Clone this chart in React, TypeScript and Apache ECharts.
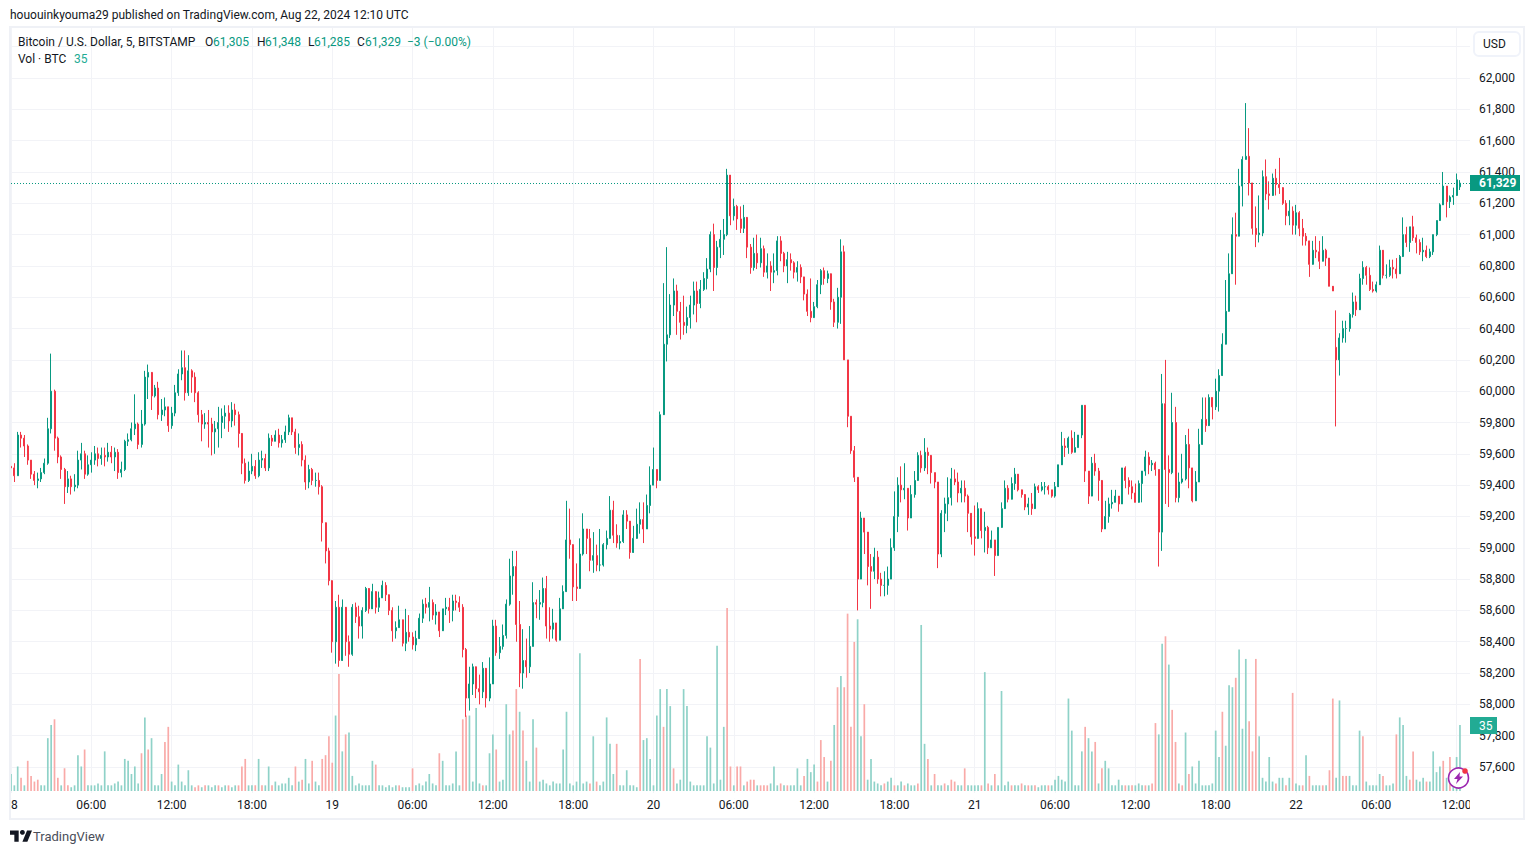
import React, { useEffect, useRef } from "react";
import * as echarts from "echarts";

// Candles are 15-minute slots: [close, low, high, open?]. Open defaults to the previous close.
const day18Candles: number[][] = [
[59510,59450,59570],[59460,59420,59540],[59720,59460,59740],[59700,59640,59740],[59650,59580,59720],[59560,59530,59660],[59470,59440,59560],[59430,59400,59490],
[59440,59380,59480],[59480,59420,59510],[59540,59470,59570],[59760,59530,59830],[60000,59730,60240],[59700,59620,60010],[59580,59540,59710],[59500,59440,59590],
[59390,59280,59510],[59440,59350,59490],[59390,59340,59460],[59400,59360,59470],[59560,59380,59620],[59600,59500,59670],[59470,59440,59620],[59530,59460,59590],
[59560,59480,59610],[59600,59530,59650],[59570,59520,59640],[59590,59530,59640],[59580,59520,59640],[59610,59550,59670],[59580,59540,59650],[59610,59490,59640],
[59480,59440,59630],[59500,59450,59550],[59680,59490,59690],[59690,59650,59730],[59760,59680,59800],[59790,59720,59980],[59660,59630,59800],[59790,59640,59880],
[60090,59780,60130],[60120,59950,60170],[59970,59880,60110],[60020,59960,60040],[59850,59820,60060],[59880,59810,59950],[59900,59840,59960],[59780,59740,59890],
[59860,59760,59900],[59990,59840,60040],[60110,59970,60140],[60150,60070,60260],[59990,59940,60260],[60130,59970,60230],[60090,59990,60140],[59990,59930,60120],
[59850,59800,60000],[59790,59680,59880],[59800,59760,59860],[59790,59640,59880],[59740,59590,59830],[59760,59600,59810],[59800,59640,59900],[59840,59700,59890],
[59860,59760,59910],[59810,59740,59910],[59880,59770,59930],[59850,59780,59920],[59730,59640,59870],[59540,59470,59720],[59430,59410,59570],[59490,59420,59550],
[59520,59470,59600],[59460,59440,59560],[59560,59450,59610],[59570,59510,59620],[59510,59490,59600],[59700,59490,59730],[59680,59650,59720],[59720,59680,59750],
[59670,59640,59760],[59690,59640,59720],[59740,59670,59780],[59830,59720,59850],[59740,59720,59830],[59640,59600,59760],[59660,59590,59730],[59560,59520,59680],
[59420,59370,59590],[59500,59380,59530],[59430,59400,59510],[59430,59390,59480],[59390,59340,59480],[59160,59040,59400],[58980,58900,59090],[58790,58760,59000],
];
const day19Candles: number[][] = [
[58400,58330,58700],[58620,58260,58660],[58280,58240,58700],[58620,58360,58670],[58400,58310,58600],[58320,58240,58440],[58620,58310,58640],[58560,58520,58650],
[58500,58420,58630],[58600,58420,58620],[58740,58590,58750],[58610,58580,58720],[58720,58630,58770],[58620,58580,58700],[58680,58590,58720],[58760,58680,58790],
[58700,58660,58780],[58600,58570,58670],[58470,58400,58620],[58490,58420,58530],[58540,58490,58630],[58390,58370,58530],[58460,58340,58610],[58430,58400,58570],
[58380,58350,58460],[58420,58340,58470],[58550,58440,58580],[58640,58520,58670],[58620,58580,58680],[58650,58530,58750],[58570,58540,58670],[58590,58510,58640],
[58470,58430,58540],[58610,58490,58610],[58620,58570,58680],[58600,58520,58680],[58660,58530,58700],[58650,58600,58700],[58620,58590,58690],[58350,58300,58640],
[58040,57920,58360],[58130,57960,58240],[58240,58060,58260],[58100,58040,58230],[58080,58000,58190],[58230,58040,58270],[58040,57980,58200],[58130,58020,58300],
[58500,58290,58540],[58330,58310,58540],[58370,58290,58430],[58440,58350,58510],[58640,58420,58670],[58820,58630,58930],[58880,58700,58980],[58510,58400,58980],
[58200,58110,58660],[58280,58100,58480],[58240,58170,58420],[58370,58200,58500],[58650,58370,58780],[58640,58550,58670],[58650,58540,58730],[58740,58620,58810],
[58500,58420,58820],[58480,58400,58620],[58520,58420,58610],[58410,58400,58520],[58610,58560,58680],[58720,58620,58760],[59050,58870,59300],[59020,58930,59250],
[58750,58660,58980],[58740,58660,58900],[58960,58770,59060],[59120,58950,59220],[59060,58960,59120],[58920,58850,59120],[58950,58840,59100],[58890,58850,59020],
[58890,58850,59120],[59020,58880,59030],[59060,58990,59110],[59240,59100,59330],[59080,59030,59300],[59030,59000,59150],[59040,58990,59080],[59210,59030,59240],
[59170,59120,59240],[58970,58930,59100],[59060,59010,59140],[59150,59130,59250],[59180,59090,59290],[59120,59030,59290],[59270,59170,59340],[59400,59220,59520],
];
const day20Candles: number[][] = [
[59500,59420,59640],[59430,59380,59500],[59850,59430,59870],[60300,59860,60690],[60360,60190,60920],[60550,60340,60620],[60640,60480,60720],[60510,60360,60680],
[60440,60330,60570],[60420,60360,60610],[60470,60370,60540],[60550,60400,60610],[60640,60490,60700],[60560,60440,60700],[60650,60530,60710],[60720,60640,60760],
[60780,60650,60850],[61000,60760,61020],[60790,60640,61070],[60920,60740,60960],[60970,60850,61030],[61000,60870,61100],[61380,60990,61420],[61120,61060,61300],
[61180,61090,61230],[61100,61030,61190],[61040,61010,61180],[61110,61010,61190],[60920,60850,61080],[60790,60750,60940],[60880,60770,60980],[60820,60780,61000],
[60910,60790,60980],[60760,60730,60930],[60800,60720,60880],[60760,60640,60830],[60770,60690,60880],[60960,60740,60990],[60880,60830,60990],[60800,60760,60890],
[60840,60690,60890],[60820,60770,60880],[60760,60720,60830],[60790,60700,60830],[60730,60690,60810],[60620,60580,60720],[60510,60480,60650],[60470,60440,60720],
[60540,60480,60570],[60680,60530,60710],[60770,60620,60780],[60720,60680,60790],[60750,60690,60770],[60570,60520,60680],[60440,60410,60590],[60600,60400,60660],
[60890,60430,60970],[60200,60200,60930],[59840,59770,60200],[59620,59600,59840],[59450,59420,59650],[58800,58600,59450],[59190,58860,59230],[59100,58960,59170],
[58880,58760,59000],[58850,58610,58960],[58940,58800,59000],[58800,58770,58980],[58760,58690,58840],[58760,58690,58850],[58800,58700,58880],[59000,58810,59060],
[59200,58980,59360],[59400,59100,59450],[59370,59290,59520],[59380,59310,59540],[59190,59110,59380],[59340,59220,59400],[59430,59320,59490],[59590,59480,59610],
[59510,59480,59620],[59610,59490,59700],[59590,59470,59640],[59480,59410,59580],[59420,59380,59480],[58960,58870,59420],[59220,58940,59240],[59280,59100,59320],
[59320,59170,59450],[59440,59270,59510],[59420,59400,59500],[59350,59290,59480],[59380,59290,59430],[59330,59290,59430],[59220,59100,59340],[59070,59020,59190],
];
const day21Candles: number[][] = [
[59060,58950,59270],[59250,59100,59290],[59110,59060,59250],[59130,58970,59230],[59000,58960,59140],[59050,59000,59110],[58950,58820,59040],[59130,58950,59130],
[59250,59180,59290],[59380,59280,59430],[59310,59290,59400],[59410,59330,59450],[59470,59370,59510],[59370,59360,59430],[59340,59320,59360],[59260,59240,59320],
[59280,59210,59320],[59250,59210,59350],[59390,59320,59410],[59370,59350,59400],[59390,59360,59420],[59390,59340,59420],[59370,59340,59400],[59330,59320,59370],
[59390,59320,59420],[59530,59420,59530],[59650,59550,59740],[59640,59580,59700],[59700,59600,59710],[59610,59600,59750],[59640,59630,59740],[59720,59640,59720],
[59910,59700,59910],[59490,59420,59870],[59330,59280,59470],[59540,59350,59580],[59490,59460,59600],[59430,59300,59510],[59120,59100,59300],[59200,59130,59300],
[59280,59160,59320],[59290,59250,59370],[59330,59290,59370],[59280,59230,59310],[59510,59400,59510],[59430,59380,59520],[59390,59340,59450],[59350,59310,59430],
[59290,59290,59410],[59410,59310,59430],[59490,59290,59490],[59580,59460,59620],[59530,59470,59610],[59540,59490,59560],[59500,59460,59550],[59100,58880,59500],
[59920,58980,60110],[59500,59280,60200],[59480,59260,59590],[59800,59470,59990],[59320,59290,59900],[59420,59290,59480],[59440,59410,59600],[59660,59430,59720],
[59510,59380,59760],[59300,59290,59440],[59420,59300,59490],[59660,59480,59760],[59820,59750,59960],[59780,59740,59960],[59960,59790,59980],[59900,59820,59960],
[60000,59880,60080],[60100,59870,60140],[60300,60110,60370],[60510,60340,60710],[60750,60600,60880],[61000,60760,61110],[60990,60680,61140],[61310,61020,61420],
[61480,61180,61500],[61500,61480,61840],[61330,61250,61680],[61040,61000,61290],[61000,60920,61180],[61010,60950,61250],[61370,60990,61410],[61260,61220,61480],
[61250,61160,61340],[61360,61270,61390],[61320,61250,61420],[61300,61260,61490],[61200,61190,61290],[61120,61060,61220],[61150,61060,61220],[61060,61000,61180],
];
const day22Candles: number[][] = [
[61140,61000,61190],[61040,60990,61150],[60990,60930,61100],[60960,60930,61010],[60810,60730,60860],[60900,60840,60960],[60890,60850,60990],[60830,60780,60960],
[60900,60850,60990],[60850,60800,60910],[60670,60670,60770],[60640,60640,60660],[60200,59775,60516,60280],[60340,60100,60370],[60400,60310,60450],[60400,60310,60450],
[60490,60380,60500],[60570,60470,60630],[60520,60480,60610],[60720,60560,60750],[60790,60680,60830],[60740,60680,60800],[60650,60640,60790],[60640,60630,60700],
[60680,60630,60700],[60900,60750,60930],[60740,60720,60800],[60740,60720,60810],[60790,60730,60840],[60780,60720,60840],[60750,60720,60850],[60860,60770,60870],
[61000,60890,61110],[60950,60920,61050],[61050,60890,61050],[60980,60960,61120],[60950,60880,61000],[60890,60870,60970],[60900,60830,60980],[60860,60850,60930],
[60890,60850,60910],[61000,60870,61000],[61090,60990,61090],[61190,61150,61200],[61310,61200,61400],[61210,61110,61230],[61240,61170,61250],[61250,61190,61300],
[61350,61260,61390],[61329,61285,61348,61305],
];

// Volumes in BTC; a negative value is a red (down) bar.
const day18Volumes = [
9,3,13,-7,3,-16,-8,-5,-6,3, 3,28,35,-38,-7,3,-12,-3,2,3, 19,13,-22,3,3,3,4,3,21,3,
3,4,5,3,17,16,9,13,4,-20, 39,-22,28,3,3,9,-26,-34,5,3, 14,5,3,11,3,-2,-3,2,-3,3,
2,3,-3,2,3,-3,2,3,-3,-13, -17,3,3,-3,17,-3,3,13,-3,5, 3,4,4,7,3,-13,5,-6,17,4,
-16,5,3,-17,-19,-29,
];
const day19Volumes = [
-15,40,-62,21,-30,31,8,3,4,3, 3,3,16,-14,3,3,2,3,2,3, -3,2,2,2,-12,3,4,3,5,9,
4,3,-20,16,3,3,4,21,3,-38, -40,40,5,44,4,-3,3,20,30,-22, 5,6,46,30,-32,-54,42,-32,16,5,
38,-23,5,6,4,3,5,4,4,22, 42,4,3,5,73,4,5,-4,29,-5, 3,5,39,25,9,-25,3,3,11,3,
3,2,-70,27,28,17,
];
const day20Volumes = [
3,40,54,-34,54,45,-12,4,6,54, 45,5,3,3,3,3,29,23,4,77, 6,34,-97,-13,3,-13,-13,3,-5,-6,
-6,3,-3,-3,-3,4,13,3,-4,3, -3,3,3,12,3,-8,17,10,14,-5, -27,-18,5,-16,35,-55,61,-55,-94,-34,
-79,91,29,-46,6,17,5,4,3,-4, 5,7,-3,3,5,-3,4,3,3,-4, 88,25,-17,3,-9,3,3,-4,3,-6,
-5,3,3,-12,3,3,
];
const day21Volumes = [
3,3,-3,63,-4,3,-9,3,53,3, 5,-3,3,3,-4,3,-3,3,-3,2, 3,3,-3,3,6,8,6,5,49,32,
3,3,21,-34,28,21,-26,4,-12,16, 12,3,3,6,3,-3,3,-3,3,4, 3,-3,3,-4,-36,30,78,-82,67,-43,
-26,4,-3,31,-9,13,4,16,3,3, 3,4,32,18,-42,24,56,55,-60,75, 33,70,-37,-21,-70,29,7,5,18,5,
-4,7,7,-3,7,-52,
];
const day22Volumes = [
4,3,-3,19,-8,3,3,3,-3,3, -11,-49,7,48,-8,-8,8,3,3,32, -29,5,3,3,3,9,-8,3,3,4,
-30,39,35,8,-6,-21,6,5,7,-5, 5,21,10,13,-16,7,-18,6,18,35,
];

const axisFont = "Roboto";
const textDark = "#131722";
const upColor = "#089981";
const downColor = "#F23645";
const upVolume = "#8FD2C8";
const downVolume = "#F9AAA8";
const gridColor = "#F2F3F7";
const frameColor = "#EFF1F6";
const lastPrice = 61329;
const lastVolume = 35;
const dayLabels = ["18", "19", "20", "21", "22"];
const totalSlots = 437;

const logoPath = "M14 22H7V11H0V4h14v18zM28 22h-8l7.5-18h8L28 22z";
echarts.graphic.registerShape("tvlogo", (echarts.graphic as any).extendPath(logoPath, {}));

function slotLabel(i: number): string {
  if (i % 96 === 0) return dayLabels[i / 96];
  const minutes = (i % 96) * 15;
  const h = String(Math.floor(minutes / 60)).padStart(2, "0");
  const m = String(minutes % 60).padStart(2, "0");
  return `${h}:${m}`;
}

function buildOption() {
  const rows = [...day18Candles, ...day19Candles, ...day20Candles, ...day21Candles, ...day22Candles];
  const volumes = [...day18Volumes, ...day19Volumes, ...day20Volumes, ...day21Volumes, ...day22Volumes];
  const categories = Array.from({ length: totalSlots }, (_, i) => slotLabel(i));
  let prev = rows[0][0] + 10;
  const candleData = rows.map((r) => {
    const open = r[3] ?? prev;
    prev = r[0];
    return [open, r[0], r[1], r[2]];
  });
  const volumeData = volumes.map((v) => ({
    value: Math.abs(v),
    itemStyle: { color: v < 0 ? downVolume : upVolume },
  }));
  const every6h = (index: number) => index % 24 === 0;
  const text = (x: number, y: number, t: string, fill = textDark, extra: any = {}) => ({
    type: "text",
    z: 60,
    x,
    y,
    style: { text: t, fill, font: `12px ${axisFont}`, verticalAlign: "middle", ...extra },
  });
  const cover = (x: number, y: number, width: number, height: number) => ({
    type: "rect",
    z: 50,
    shape: { x, y, width, height },
    style: { fill: "#fff" },
  });
  return {
    animation: false,
    backgroundColor: "#fff",
    grid: [
      { left: 11, width: 1459, top: 15.4, height: 782.9 },
      { left: 11, width: 1459, top: 591, height: 200 },
    ],
    xAxis: [
      {
        type: "category",
        gridIndex: 0,
        data: categories,
        boundaryGap: false,
        axisLine: { show: false },
        axisTick: { show: false },
        axisLabel: { interval: every6h, margin: 0, hideOverlap: false, color: textDark, fontFamily: axisFont, fontSize: 12, showMinLabel: true, showMaxLabel: true, lineHeight: 14 },
        splitLine: { show: true, interval: every6h, lineStyle: { color: gridColor, width: 1 } },
      },
      {
        type: "category",
        gridIndex: 1,
        data: categories,
        boundaryGap: false,
        show: false,
      },
    ],
    yAxis: [
      {
        type: "value",
        gridIndex: 0,
        position: "right",
        min: 57400,
        max: 62400,
        interval: 200,
        axisLine: { show: false },
        axisTick: { show: false },
        axisLabel: {
          margin: 9,
          color: textDark,
          fontFamily: axisFont,
          fontSize: 12,
          showMinLabel: false,
          showMaxLabel: false,
          formatter: (v: number) => (v >= 62200 ? "" : v.toLocaleString("en-US")),
        },
        splitLine: { show: true, showMinLine: false, showMaxLine: false, lineStyle: { color: gridColor, width: 1 } },
      },
      { type: "value", gridIndex: 1, min: 0, max: 106, show: false, splitLine: { show: false } },
    ],
    series: [
      {
        type: "bar",
        name: "Vol",
        xAxisIndex: 1,
        yAxisIndex: 1,
        data: volumeData,
        barWidth: 1.7,
        z: 1,
      },
      {
        type: "candlestick",
        name: "BTCUSD",
        xAxisIndex: 0,
        yAxisIndex: 0,
        data: candleData,
        barWidth: 1.5,
        z: 3,
        itemStyle: { color: upColor, color0: downColor, borderColor: upColor, borderColor0: downColor, borderWidth: 1 },
        markLine: {
          silent: true,
          symbol: "none",
          animation: false,
          label: { show: false },
          lineStyle: { color: upColor, type: [1, 2], width: 1 },
          data: [{ yAxis: lastPrice }],
        },
      },
    ],
    graphic: {
      elements: [
        cover(0, 0, 1534, 26),
        cover(0, 794, 10.5, 24),
        cover(10, 793, 1460, 5),
        cover(1470, 794, 54, 24),
        cover(0, 820, 1534, 34),
        {
          type: "rect",
          z: 55,
          shape: { x: 10, y: 27, width: 1514, height: 792 },
          style: { fill: "none", stroke: frameColor, lineWidth: 2 },
        },
        text(10, 15, "hououinkyouma29 published on TradingView.com, Aug 22, 2024 12:10 UTC"),
        text(18, 42, "Bitcoin / U.S. Dollar, 5, BITSTAMP"),
        text(205, 42, "O"),
        text(213, 42, "61,305", upColor),
        text(257, 42, "H"),
        text(265, 42, "61,348", upColor),
        text(308, 42, "L"),
        text(314, 42, "61,285", upColor),
        text(357, 42, "C"),
        text(365, 42, "61,329", upColor),
        text(407, 42, "−3 (−0.00%)", upColor),
        text(18, 59, "Vol · BTC"),
        text(74, 59, String(lastVolume), "#22AB94"),
        {
          type: "rect",
          z: 58,
          shape: { x: 1474, y: 32, width: 46, height: 24, r: 5 },
          style: { fill: "#fff", stroke: "#F0F3FA", lineWidth: 2 },
        },
        text(1483, 44, "USD"),
        {
          type: "rect",
          z: 58,
          shape: { x: 1470, y: 175, width: 50, height: 16 },
          style: { fill: upColor },
        },
        text(1479, 183, lastPrice.toLocaleString("en-US"), "#fff", { font: `bold 12px ${axisFont}` }),
        {
          type: "rect",
          z: 58,
          shape: { x: 1470, y: 717, width: 27, height: 17 },
          style: { fill: "#22AB94" },
        },
        text(1479, 726, String(lastVolume), "#fff"),
        { type: "circle", z: 60, shape: { cx: 1458.5, cy: 778, r: 10 }, style: { fill: "#fff", stroke: "#9C27B0", lineWidth: 1.6 } },
        {
          type: "polygon",
          z: 61,
          shape: { points: [[1460, 772], [1454, 779], [1457.5, 779], [1456, 784], [1463, 776.5], [1459.5, 776.5]] },
          style: { fill: "#9C27B0" },
        },
        { type: "circle", z: 62, shape: { cx: 1465, cy: 771, r: 2.8 }, style: { fill: "#F23645" } },
        { type: "tvlogo", z: 60, x: 10, y: 828, scaleX: 0.62, scaleY: 0.62, style: { fill: "#131722" } },
        { type: "circle", z: 60, shape: { cx: 22.4, cy: 832.4, r: 2.4 }, style: { fill: "#131722" } },
        text(33, 836, "TradingView", "#4A4E59", { font: `13px ${axisFont}` }),
      ],
    },
  };
}

export default function App() {
  const ref = useRef<HTMLDivElement>(null);
  useEffect(() => {
    const chart = echarts.init(ref.current!, undefined, { renderer: "svg" });
    chart.setOption(buildOption() as any);
    return () => chart.dispose();
  }, []);
  return <div ref={ref} style={{ position: "fixed", left: 0, top: 0, width: 1534, height: 854 }} />;
}
